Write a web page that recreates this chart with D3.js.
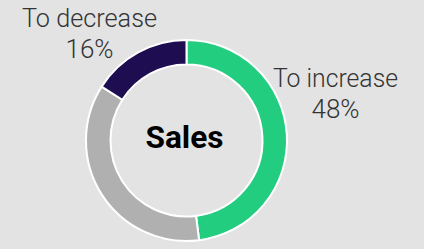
<!DOCTYPE html>
<html>
<head>
<meta charset="utf-8">
<script src="https://cdn.jsdelivr.net/npm/d3@7"></script>
<style>
  body { margin: 0; background: #e3e3e3; }
  svg { display: block; }
</style>
</head>
<body>
<div id="chart"></div>
<script>
let categories = ['To increase', 'No change', 'To decrease'];
let values = [48, 36, 16];
let showLabel = [true, false, true];
let centreTitle = 'Sales';

let dim = {
    'width': 424,
    'height': 249
};

let colours = d3.scaleOrdinal()
    .domain(categories)
    .range(['#22cd7f', '#b0b0b0', '#1f0d52']);

let svg = d3.select('#chart').append('svg')
    .attr('width', dim.width)
    .attr('height', dim.height);

svg.append('rect')
    .attr('width', dim.width)
    .attr('height', dim.height)
    .attr('fill', '#e3e3e3');

let cx = 186.5, cy = 140.5;
let outerR = 100.5, innerR = 76;

let data = categories.map((c, i) => ({ cat: c, value: values[i], label: showLabel[i] }));

let pie = d3.pie().sort(null).value(d => d.value);
let arc = d3.arc().innerRadius(innerR).outerRadius(outerR);

let g = svg.append('g').attr('transform', `translate(${cx},${cy})`);

g.selectAll('path')
    .data(pie(data))
    .join('path')
    .attr('d', arc)
    .attr('fill', d => colours(d.data.cat))
    .attr('stroke', '#ffffff')
    .attr('stroke-width', 2);

// labels sit outside the ring, off the top end of each slice
let labelPos = {
    'To increase': [335.5, 87, 125],
    'To decrease': [89.5, 27, 135]
};

data.filter(d => d.label).forEach(d => {
    let p = labelPos[d.cat];
    let t = svg.append('text')
        .attr('text-anchor', 'middle')
        .attr('font-family', 'Roboto, "Liberation Sans", sans-serif')
        .attr('font-weight', 300)
        .attr('font-size', 26)
        .attr('fill', '#333333');
    t.append('tspan')
        .attr('x', p[0]).attr('y', p[1])
        .attr('textLength', p[2])
        .attr('lengthAdjust', 'spacingAndGlyphs')
        .text(d.cat);
    t.append('tspan')
        .attr('x', p[0]).attr('y', p[1] + 31)
        .text(d.value + '%');
});

svg.append('text')
    .attr('x', cx - 2)
    .attr('y', 148)
    .attr('text-anchor', 'middle')
    .attr('font-family', '"Liberation Sans Narrow", Roboto, sans-serif')
    .attr('font-weight', 700)
    .attr('font-size', 32)
    .attr('textLength', 78)
    .attr('lengthAdjust', 'spacingAndGlyphs')
    .attr('fill', '#000000')
    .text(centreTitle);
</script>
</body>
</html>
